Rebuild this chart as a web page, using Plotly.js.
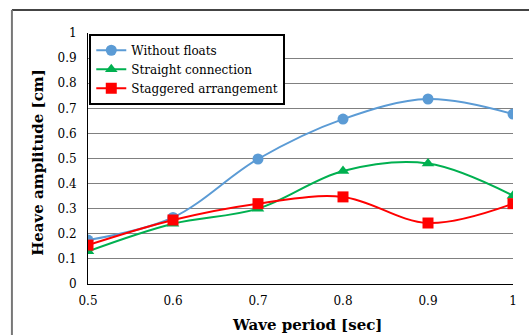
<!DOCTYPE html>
<html><head><meta charset="utf-8">
<script src="https://cdn.plot.ly/plotly-3.0.1.min.js"></script>
<style>html,body{margin:0;padding:0;background:#fff;overflow:hidden;}#chart{width:529px;height:335px;}</style>
</head><body><div id="chart"></div>
<script>
var periods = [0.5, 0.6, 0.7, 0.8, 0.9, 1.0];
var withoutFloats = [0.175, 0.265, 0.498, 0.657, 0.737, 0.677];
var straightConnection = [0.13, 0.24, 0.30, 0.45, 0.48, 0.352];
var staggeredArrangement = [0.155, 0.255, 0.32, 0.347, 0.243, 0.32];
var seriesNames = ['Without floats', 'Straight connection', 'Staggered arrangement'];
var xTicks = [0.5, 0.6, 0.7, 0.8, 0.9, 1];
var xTickText = ['0.5', '0.6', '0.7', '0.8', '0.9', '1'];
var yTicks = [0, 0.1, 0.2, 0.3, 0.4, 0.5, 0.6, 0.7, 0.8, 0.9, 1];
var yTickText = ['0', '0.1', '0.2', '0.3', '0.4', '0.5', '0.6', '0.7', '0.8', '0.9', '1'];
var xTitle = 'Wave period [sec]';
var yTitle = 'Heave amplitude [cm]';

var font = 'DejaVu Serif';
var traces = [
  {x: periods, y: withoutFloats, name: seriesNames[0], mode: 'lines+markers',
   line: {color: '#5B9BD5', width: 2, shape: 'spline', smoothing: 1},
   marker: {symbol: 'circle', size: 11, color: '#5B9BD5'}},
  {x: periods, y: straightConnection, name: seriesNames[1], mode: 'lines+markers',
   line: {color: '#00B050', width: 2, shape: 'spline', smoothing: 1},
   marker: {symbol: 'triangle-up', size: 11, color: '#00B050'}},
  {x: periods, y: staggeredArrangement, name: seriesNames[2], mode: 'lines+markers',
   line: {color: '#FF0000', width: 2, shape: 'spline', smoothing: 1},
   marker: {symbol: 'square', size: 11, color: '#FF0000'}}
];
var layout = {
  width: 529, height: 335,
  margin: {l: 88, r: 16, t: 33, b: 51},
  paper_bgcolor: '#fff', plot_bgcolor: '#fff',
  font: {family: font, color: '#000', size: 12},
  showlegend: true,
  legend: {x: 0.003, y: 0.997, xanchor: 'left', yanchor: 'top',
    bgcolor: '#fff', bordercolor: '#000', borderwidth: 2,
    font: {family: font, size: 12, color: '#000'},
    tracegroupgap: 0, itemwidth: 30},
  xaxis: {range: [0.5, 1], tickvals: xTicks, ticktext: xTickText,
    showgrid: false, zeroline: false, showline: true, linecolor: '#000', linewidth: 1,
    ticks: '', ticklabelstandoff: 6, tickfont: {size: 12, family: font}},
  yaxis: {range: [0, 1], tickvals: yTicks, ticktext: yTickText,
    showgrid: true, gridcolor: '#808080', gridwidth: 1, zeroline: false,
    showline: true, linecolor: '#000', linewidth: 1, ticks: '', ticklabelstandoff: 8,
    tickfont: {size: 12, family: font}},
  shapes: [
    {type: 'line', xref: 'paper', yref: 'paper', x0: -0.179, x1: 1.04, y0: 1.0916, y1: 1.0916,
     line: {color: '#444', width: 2}, layer: 'below'},
    {type: 'line', xref: 'paper', yref: 'paper', x0: -0.179, x1: -0.179, y0: -0.21, y1: 1.0916,
     line: {color: '#777', width: 2}, layer: 'below'}
  ],
  annotations: [
    {text: xTitle, xref: 'paper', yref: 'paper', x: 0.515, y: -0.163, xanchor: 'center', yanchor: 'middle',
     showarrow: false, font: {size: 15, family: font, weight: 'bold', color: '#000'}},
    {text: yTitle, xref: 'paper', yref: 'paper', x: -0.118, y: 0.486, xanchor: 'center', yanchor: 'middle',
     textangle: -90, showarrow: false, font: {size: 15, family: font, weight: 'bold', color: '#000'}}
  ]
};
Plotly.newPlot('chart', traces, layout, {displayModeBar: false, staticPlot: true});
</script></body></html>
